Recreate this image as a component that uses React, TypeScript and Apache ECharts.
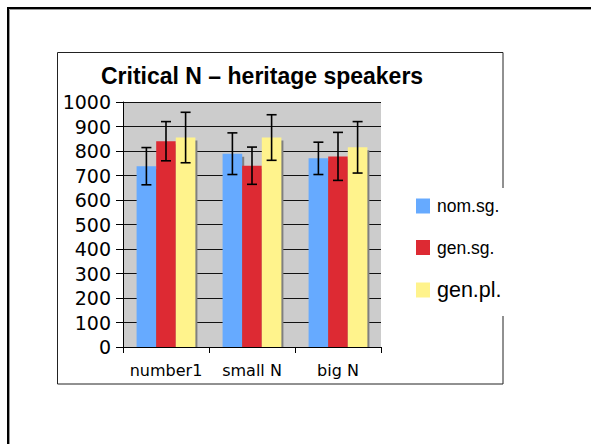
import React, { useEffect, useRef } from "react";
import * as echarts from "echarts";

const categories = ["number1", "small N", "big N"];
const seriesNames = ["nom.sg.", "gen.sg.", "gen.pl."];
const nomSg = [738, 789, 770];
const genSg = [840, 740, 778];
const genPl = [855, 855, 815];
const nomSgErr = [76, 85, 66];
const genSgErr = [80, 76, 98];
const genPlErr = [103, 93, 105];
const yTicks = { min: 0, max: 1000, interval: 100 };

const colors = ["#66aaff", "#dd2a33", "#fff38c"];
const BAR_W = 19.6;

export default function App() {
  const ref = useRef<HTMLDivElement>(null);
  useEffect(() => {
    if (!ref.current) return;
    const chart = echarts.init(ref.current, null, { renderer: "svg" });
    const values = [nomSg, genSg, genPl];
    const errs = [nomSgErr, genSgErr, genPlErr];
    const shadowData: number[][] = [];
    const errData: number[][] = [];
    values.forEach((arr, si) =>
      arr.forEach((v, ci) => {
        shadowData.push([ci, v, si]);
        errData.push([ci, v - errs[si][ci], v + errs[si][ci], si]);
      })
    );
    const legendTops = [197, 238.5, 279];
    const legendSizes = [17.5, 17.5, 21.5];
    const option: any = {
      animation: false,
      backgroundColor: "#ffffff",
      title: {
        text: "Critical N \u2013 heritage speakers",
        left: 101,
        top: 64,
        padding: 0,
        textStyle: {
          fontFamily: "Liberation Sans",
          fontWeight: "bold",
          fontSize: 23,
          color: "#000",
        },
      },
      graphic: [
        {
          type: "rect",
          z: 0,
          shape: { x: 8, y: 8, width: 800, height: 800 },
          style: { fill: "none", stroke: "#000", lineWidth: 2 },
          silent: true,
        },
        {
          type: "rect",
          z: 0,
          shape: { x: 9.5, y: 9.5, width: 800, height: 800 },
          style: { fill: "none", stroke: "#999", lineWidth: 1 },
          silent: true,
        },
        {
          type: "rect",
          z: 0,
          shape: { x: 57.5, y: 52.5, width: 445.5, height: 331.5 },
          style: { fill: "none", stroke: "#222", lineWidth: 1 },
          silent: true,
        },
        {
          type: "rect",
          z: 1,
          shape: { x: 405, y: 188, width: 102, height: 128 },
          style: { fill: "#fff", stroke: "none" },
          silent: true,
        },
      ],
      legend: seriesNames.map((n, i) => ({
        z: 10,
        orient: "vertical",
        left: 416,
        top: legendTops[i],
        padding: 0,
        itemWidth: 14,
        itemHeight: 15,
        icon: "rect",
        data: [n],
        textStyle: {
          fontFamily: "Liberation Sans",
          fontSize: legendSizes[i],
          color: "#000",
          padding: [0, 0, 0, 2],
        },
      })),
      grid: {
        left: 123,
        top: 102,
        width: 258,
        height: 245,
        show: true,
        backgroundColor: "#cccccc",
        borderWidth: 0,
      },
      xAxis: {
        type: "category",
        data: categories,
        axisLine: { lineStyle: { color: "#000", width: 1 } },
        axisTick: { show: true, length: 6, lineStyle: { color: "#000" } },
        axisLabel: {
          interval: 0,
          fontFamily: "DejaVu Sans",
          fontSize: 16,
          color: "#000",
          margin: 15,
        },
      },
      yAxis: {
        type: "value",
        min: yTicks.min,
        max: yTicks.max,
        interval: yTicks.interval,
        axisLine: { show: true, lineStyle: { color: "#000", width: 1 } },
        axisTick: { show: true, length: 7, lineStyle: { color: "#000" } },
        splitLine: { show: true, lineStyle: { color: "#111", width: 1 } },
        axisLabel: {
          formatter: (v: number) => String(v),
          fontFamily: "DejaVu Sans",
          fontSize: 19,
          color: "#000",
          margin: 12,
        },
      },
      series: [
        ...values.map((arr, i) => ({
          type: "bar",
          name: seriesNames[i],
          data: arr,
          barWidth: BAR_W,
          barGap: "0%",
          z: 2,
          itemStyle: { color: colors[i] },
        })),
        {
          type: "custom",
          name: "shadow",
          z: 1,
          data: shadowData,
          encode: { x: 0, y: 1 },
          renderItem: (params: any, api: any) => {
            const ci = api.value(0);
            const v = api.value(1);
            const si = api.value(2);
            const top = api.coord([ci, v]);
            const base = api.coord([ci, 0]);
            const cx = top[0] + (si - 1) * BAR_W;
            return {
              type: "rect",
              shape: {
                x: cx - BAR_W / 2 + 2,
                y: top[1] + 3,
                width: BAR_W,
                height: base[1] - top[1] - 3,
              },
              style: { fill: "#7f7f7f" },
            };
          },
        },
        {
          type: "custom",
          name: "errors",
          z: 5,
          data: errData,
          encode: { x: 0, y: [1, 2] },
          renderItem: (params: any, api: any) => {
            const ci = api.value(0);
            const si = api.value(3);
            const lo = api.coord([ci, api.value(1)]);
            const hi = api.coord([ci, api.value(2)]);
            const cx = lo[0] + (si - 1) * BAR_W;
            const cap = 5;
            const st = { stroke: "#000", lineWidth: 1.6 };
            return {
              type: "group",
              children: [
                { type: "line", shape: { x1: cx, y1: lo[1], x2: cx, y2: hi[1] }, style: st },
                { type: "line", shape: { x1: cx - cap, y1: lo[1], x2: cx + cap, y2: lo[1] }, style: st },
                { type: "line", shape: { x1: cx - cap, y1: hi[1], x2: cx + cap, y2: hi[1] }, style: st },
              ],
            };
          },
        },
      ],
    };
    chart.setOption(option);
    return () => chart.dispose();
  }, []);
  return (
    <div
      ref={ref}
      style={{ position: "absolute", left: 0, top: 0, width: 591, height: 444, background: "#fff" }}
    />
  );
}
